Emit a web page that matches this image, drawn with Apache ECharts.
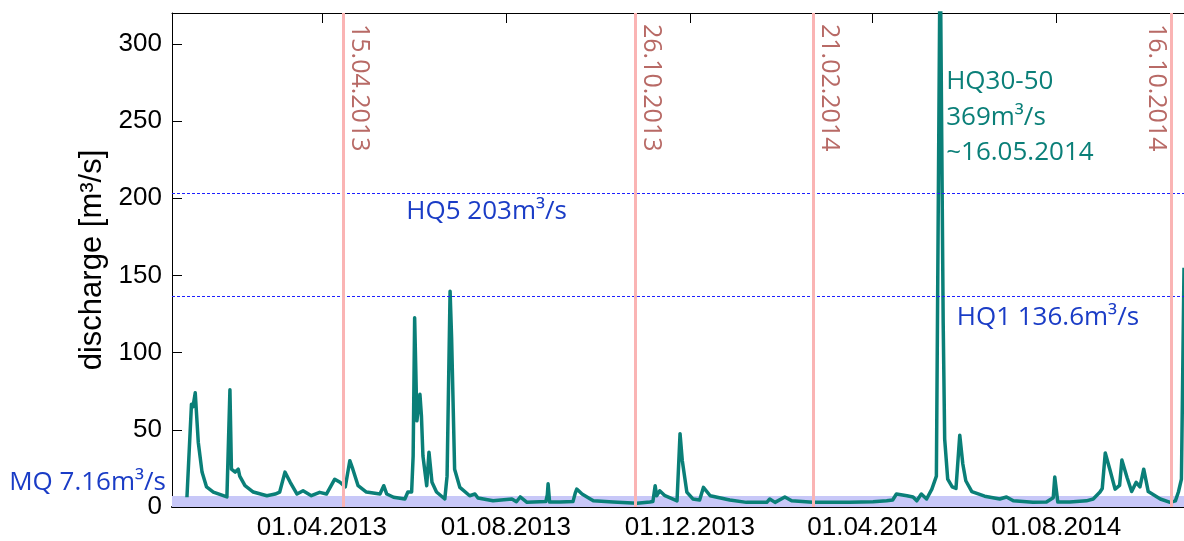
<!DOCTYPE html>
<html>
<head>
<meta charset="utf-8">
<script src="https://cdn.jsdelivr.net/npm/echarts@6/dist/echarts.min.js"></script>
<style>
html,body{margin:0;padding:0;background:#fff;}
#c{width:1184px;height:541px;}
</style>
</head>
<body>
<div id="c"></div>
<script>
// ---- data ----
const tickLabels = ['01.04.2013','01.08.2013','01.12.2013','01.04.2014','01.08.2014'];
const yTicks = [0,50,100,150,200,250,300];
const axisStart = '2012-12-22 14';
const axisEnd = '2014-10-24 17';
const eventDates = ['15.04.2013','26.10.2013','21.02.2014','16.10.2014'];
const HQ5 = 203, HQ1 = 136.6, MQ = 7.16, HQ30_50 = 369;
const peakDate = '16.05.2014';

const dates = [
'2013-01-01 12','2013-01-04 12','2013-01-05 12','2013-01-07','2013-01-09','2013-01-11 12','2013-01-14 12','2013-01-19','2013-01-28','2013-01-30',
'2013-01-31','2013-02-02 12','2013-02-04 12','2013-02-05 12','2013-02-09','2013-02-14 12','2013-02-23 12','2013-03-01','2013-03-04','2013-03-07 12',
'2013-03-11','2013-03-15 12','2013-03-19 12','2013-03-25','2013-03-30 12','2013-04-04','2013-04-09 12','2013-04-13','2013-04-16 12','2013-04-19 12',
'2013-04-21 12','2013-04-25','2013-04-30 12','2013-05-09 12','2013-05-12','2013-05-14','2013-05-18 12','2013-05-26','2013-05-28','2013-05-30 12',
'2013-05-31 12','2013-06-01 12','2013-06-03','2013-06-05','2013-06-06','2013-06-07','2013-06-09 12','2013-06-11','2013-06-13','2013-06-16',
'2013-06-21 12','2013-06-23','2013-06-25','2013-06-26','2013-06-28','2013-07-01 12','2013-07-08','2013-07-11 12','2013-07-13 12','2013-07-23 12',
'2013-08-05','2013-08-08','2013-08-10 12','2013-08-15','2013-08-27 12','2013-08-28 12','2013-08-29','2013-08-30','2013-09-06','2013-09-14 12','2013-09-16','2013-09-17','2013-09-20 12','2013-09-26',
'2013-09-28','2013-10-11','2013-10-27','2013-11-04 12','2013-11-06 12','2013-11-08','2013-11-09','2013-11-11','2013-11-14 12','2013-11-22 12','2013-11-23 12','2013-11-24 12',
'2013-11-26','2013-11-29','2013-12-03','2013-12-07 12','2013-12-10','2013-12-14 12','2013-12-27 12','2014-01-07 12','2014-01-21','2014-01-23','2014-01-26 12',
'2014-02-02','2014-02-06 12','2014-02-20 12','2014-03-17','2014-04-01 12','2014-04-10 12','2014-04-14 12','2014-04-17','2014-04-24','2014-04-28','2014-04-30 12',
'2014-05-03 12','2014-05-07','2014-05-10 12','2014-05-13 12','2014-05-16','2014-05-18','2014-05-19','2014-05-21','2014-05-24','2014-05-26 12',
'2014-05-29','2014-05-31','2014-06-02','2014-06-06','2014-06-14 12','2014-06-24 12','2014-06-29','2014-07-03 12','2014-07-16 12','2014-07-25 12',
'2014-07-30','2014-07-31','2014-08-02','2014-08-10','2014-08-21','2014-08-25 12','2014-08-30','2014-08-31 12','2014-09-02 12','2014-09-05 12','2014-09-09',
'2014-09-12','2014-09-13 12','2014-09-17','2014-09-20','2014-09-23','2014-09-25 12','2014-09-28','2014-10-01','2014-10-09','2014-10-15 12',
'2014-10-19','2014-10-21','2014-10-23','2014-10-24 17'
];
const discharge = [
6.3,66.6,65,74,42,22.6,13,9.7,6.5,76,
24.5,22.6,24.5,20,13.8,9.7,7.3,8.4,9.7,22.6,
16,8.4,10.5,7.3,9.5,8.4,18,16,13,30,
24.5,13.8,9.7,8.4,13.8,8.4,6.3,5.2,9.7,9.7,
33,122.6,55.8,73,59,33,13.8,35.5,16,9.7,
5.2,20,139.8,110,24.5,12.7,7.3,8.4,5.8,4,
5.2,3.4,6.5,3,3.5,8,15,3.2,3.2,3.5,9,11.6,8.4,5.2,
4,3.2,2.5,3.2,3.5,13.8,7.3,10.5,7.3,4,5,47.5,
30,9.7,5.2,4.5,12.7,7.3,4.5,3,3,5.2,3,
6.5,4,3,3,3.4,4,4.5,8.4,7.3,6.5,4,
8.4,5.2,11.6,20,369,120,44,18,13,12,
46.5,28,17,10,7,5.2,6.5,4,3,3.2,
6,19.4,3.2,3.2,4,5.2,9.7,12,35,24.5,11.6,
14,30.4,19,10,16,13,24.5,10,5.2,3,
4,9.7,18,155
];

// ---- helpers ----
function ts(s){ const [d,h] = s.split(' '); const [y,m,dd] = d.split('-').map(Number); return new Date(y, m-1, dd, h ? Number(h) : 0).getTime(); }
function tsDMY(s){ const [dd,m,y] = s.split('.').map(Number); return new Date(y, m-1, dd).getTime(); }
function pad(n){ return (n<10?'0':'')+n; }
function fmt(v){ const d = new Date(v); return pad(d.getDate())+'.'+pad(d.getMonth()+1)+'.'+d.getFullYear(); }

const tickTs = tickLabels.map(tsDMY);
const seriesData = dates.map((d,i)=>[ts(d), discharge[i]]);
const xMin = ts(axisStart), xMax = ts(axisEnd);

const axisFont = 'Arial, "Liberation Sans", sans-serif';
const annFont = '"Open Sans", sans-serif';
const blue = '#1a3cc6';
const teal = '#0a7f78';
const dateColor = '#b86a66';

const chart = echarts.init(document.getElementById('c'), null, {renderer:'canvas'});
chart.setOption({
  animation:false,
  backgroundColor:'#fff',
  grid:{left:172, right:0, top:13, bottom:33, containLabel:false},
  xAxis:[
    {type:'value', min:xMin, max:xMax, position:'bottom', scale:true,
     axisLine:{show:true, onZero:false, lineStyle:{color:'#000', width:2}},
     axisTick:{show:false},
     splitLine:{show:false},
     axisLabel:{customValues:tickTs, formatter:fmt, fontSize:26, fontFamily:axisFont, color:'#000', margin:8, hideOverlap:false}},
    {type:'value', min:xMin, max:xMax, position:'top', scale:true,
     axisLine:{show:true, onZero:false, lineStyle:{color:'#000', width:1}},
     axisTick:{show:true, inside:true, length:10, customValues:tickTs, lineStyle:{color:'#000', width:1}},
     splitLine:{show:false},
     axisLabel:{show:false, customValues:tickTs}}
  ],
  yAxis:[
    {type:'value', min:0, max:320,
     axisLine:{show:true, lineStyle:{color:'#000', width:1}},
     axisTick:{show:true, inside:true, length:10, customValues:yTicks, lineStyle:{color:'#000'}},
     axisLabel:{customValues:yTicks, fontSize:26, fontFamily:axisFont, color:'#000', margin:10},
     splitLine:{show:false},
     name:'discharge [m³/s]', nameLocation:'middle', nameGap:64,
     nameTextStyle:{fontSize:31, fontFamily:axisFont, color:'#000'}}
  ],
  series:[
    {type:'line', xAxisIndex:0, yAxisIndex:0, data:seriesData, showSymbol:false, symbol:'none',
     lineStyle:{color:teal, width:3.5, join:'round'}, z:3, clip:true,
     markArea:{silent:true, itemStyle:{color:'#c8c8f8', opacity:1}, data:[[{yAxis:0},{yAxis:MQ}]], z:1},
     markLine:{silent:true, symbol:['none','none'], label:{show:false}, z:5,
       data:[
         {yAxis:HQ5, lineStyle:{color:'#1f1fff', type:[3,2], width:1}},
         {yAxis:HQ1, lineStyle:{color:'#1f1fff', type:[3,2], width:1}}
       ].concat(eventDates.map(d=>({xAxis:tsDMY(d), lineStyle:{color:'#fab4b4', type:'solid', width:3}})))
     }}
  ]
});

// ---- annotations anchored to data coordinates ----
function px(x, y){ return chart.convertToPixel({xAxisIndex:0, yAxisIndex:0}, [x, y]); }
const g = [];
const topY = px(xMin, 320)[1];
eventDates.forEach((d, i) => {
  const p = px(tsDMY(d), 320);
  const last = i === eventDates.length - 1;
  g.push({type:'text', x: p[0] + (last ? -15 : 16), y: topY + 11, rotation: -Math.PI/2, z:10,
    style:{text:d, font:'25px ' + annFont, fill:dateColor, align:'left', verticalAlign:'middle'}});
});
const p5 = px(ts('2013-05-27'), HQ5);
g.push({type:'text', x:p5[0], y:p5[1]+18, z:10, style:{text:'HQ5 '+HQ5+'m³/s', font:'26px '+annFont, fill:blue, align:'left', verticalAlign:'middle'}});
const p1 = px(ts('2014-05-27'), HQ1);
g.push({type:'text', x:p1[0], y:p1[1]+21, z:10, style:{text:'HQ1 '+HQ1+'m³/s', font:'26px '+annFont, fill:blue, align:'left', verticalAlign:'middle'}});
const pm = px(xMin, MQ);
g.push({type:'text', x:pm[0]-6, y:pm[1]-13, z:10, style:{text:'MQ '+MQ+'m³/s', font:'26px '+annFont, fill:blue, align:'right', verticalAlign:'middle'}});
const pp = px(tsDMY(peakDate), 320);
['HQ30-50', HQ30_50+'m³/s', '~'+peakDate].forEach((t, i) => {
  g.push({type:'text', x:pp[0]+6, y:topY + 69 + i*35.5, z:10, style:{text:t, font:'26px '+annFont, fill:teal, align:'left', verticalAlign:'middle'}});
});
chart.setOption({graphic:g});
</script>
</body>
</html>
